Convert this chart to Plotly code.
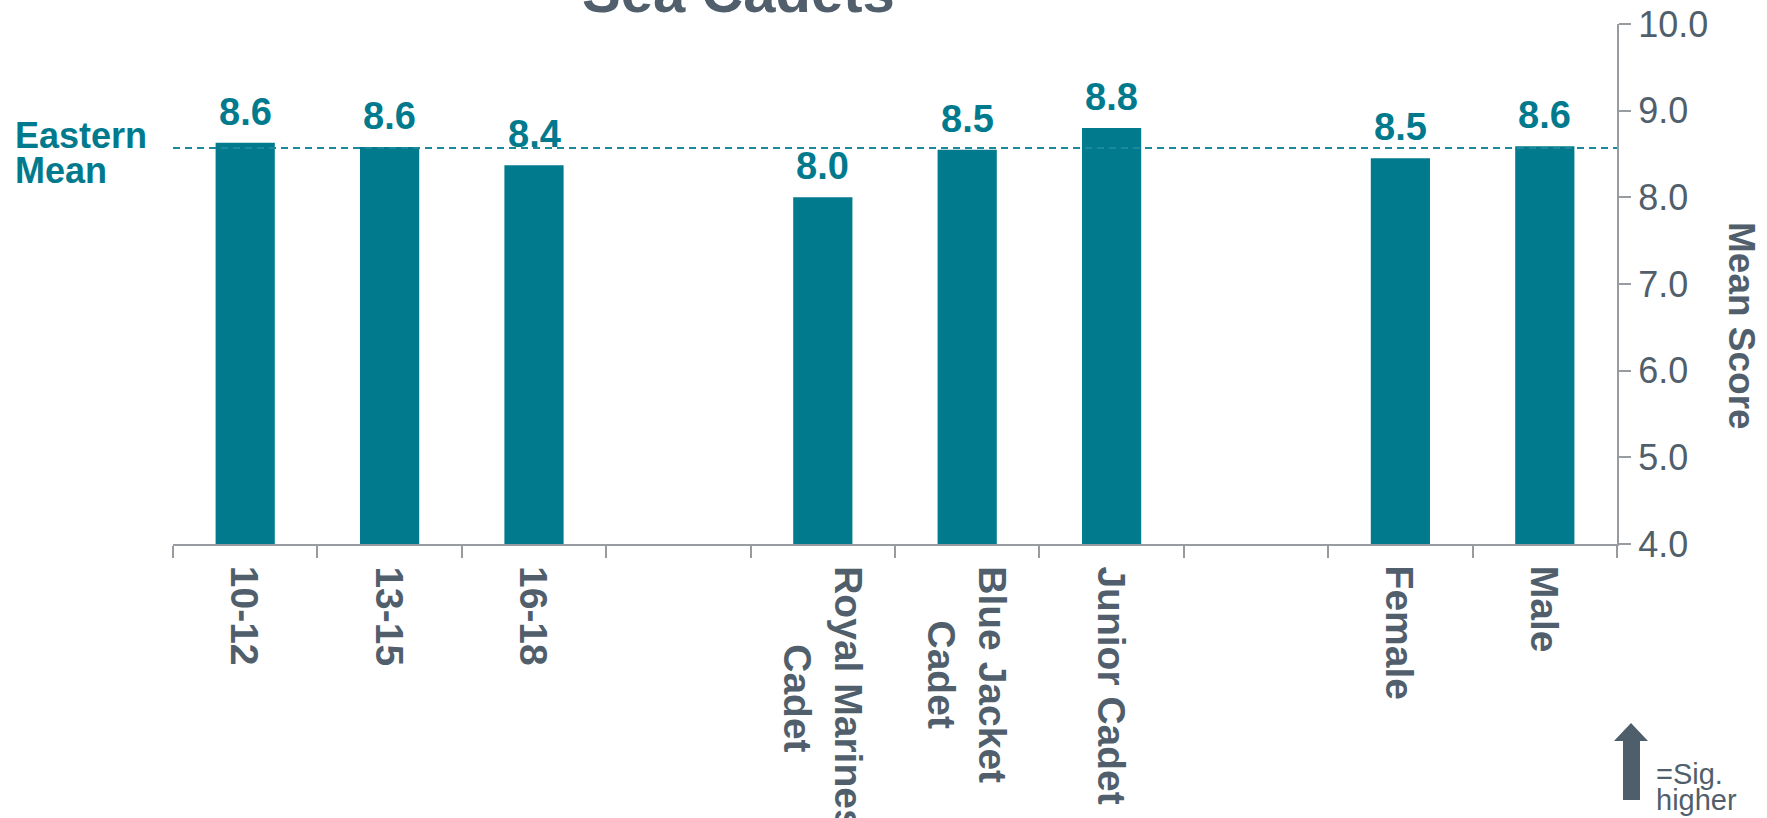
import plotly.graph_objects as go

# ---- data ----
categories = ["10-12", "13-15", "16-18", " ",
              "Royal Marines<br>Cadet", "Blue Jacket<br>Cadet", "Junior Cadet", "  ",
              "Female", "Male"]
mean_scores = [8.63, 8.58, 8.37, None, 8.00, 8.55, 8.80, None, 8.45, 8.59]
score_labels = ["8.6", "8.6", "8.4", "", "8.0", "8.5", "8.8", "", "8.5", "8.6"]
eastern_mean = 8.57
y_ticks = [4, 5, 6, 7, 8, 9, 10]

TEAL = "#017A8E"
SLATE = "#515F6C"
AXIS = "#989BA0"
FONT = "Liberation Sans, Arial, sans-serif"

W, H = 1767, 818
ML, MR, MT, MB = 173, 150, 24, 274
PW, PH = W - ML - MR, H - MT - MB


def xp(px):
    return (px - ML) / PW


def yp(py):
    return (H - MB - py) / PH


fig = go.Figure()
fig.add_trace(go.Bar(
    x=categories, y=mean_scores, width=0.41,
    marker=dict(color=TEAL, line=dict(width=0)),
    hoverinfo="x+y",
))

annotations = []
for c, v, t in zip(categories, mean_scores, score_labels):
    if v is None:
        continue
    annotations.append(dict(
        x=c, y=v, xref="x", yref="y", text=f"<b>{t}</b>", showarrow=False,
        xanchor="center", yanchor="bottom", yshift=8,
        font=dict(family=FONT, size=38, color=TEAL)))

# category labels (rotated, reading top to bottom, centred lines)
for c in categories:
    if not c.strip():
        continue
    annotations.append(dict(
        x=c, y=yp(564), xref="x", yref="paper", text=f"<b>{c}</b>",
        showarrow=False, textangle=90, align="center",
        xanchor="center", yanchor="top",
        font=dict(family=FONT, size=39, color=SLATE)))

# Eastern mean labels
annotations.append(dict(x=xp(13), y=eastern_mean, xref="paper", yref="y",
                        text="<b>Eastern</b>", showarrow=False, xanchor="left",
                        yanchor="bottom", yshift=-10,
                        font=dict(family=FONT, size=36, color=TEAL)))
annotations.append(dict(x=xp(13), y=eastern_mean, xref="paper", yref="y",
                        text="<b>Mean</b>", showarrow=False, xanchor="left",
                        yanchor="bottom", yshift=-45,
                        font=dict(family=FONT, size=36, color=TEAL)))

# Title (partially off the top)
annotations.append(dict(x=xp(738), y=yp(26), xref="paper", yref="paper",
                        text="<b>Sea Cadets</b>", showarrow=False,
                        xanchor="center", yanchor="bottom",
                        font=dict(family=FONT, size=58, color=SLATE)))

# Y axis title on the right, reading top to bottom
annotations.append(dict(x=xp(1741), y=yp(326), xref="paper", yref="paper",
                        text="<b>Mean Score</b>", showarrow=False, textangle=90,
                        xanchor="center", yanchor="middle",
                        font=dict(family=FONT, size=37, color=SLATE)))

# Sig. higher legend
annotations.append(dict(x=xp(1654), y=yp(792), xref="paper", yref="paper",
                        text="=Sig.", showarrow=False, xanchor="left", yanchor="bottom",
                        font=dict(family=FONT, size=29, color=SLATE)))
annotations.append(dict(x=xp(1654), y=yp(818), xref="paper", yref="paper",
                        text="higher", showarrow=False, xanchor="left", yanchor="bottom",
                        font=dict(family=FONT, size=29, color=SLATE)))

arrow_pts = [(1631, 723), (1648, 741), (1640, 741), (1640, 800),
             (1623, 800), (1623, 741), (1614, 741)]
path = "M " + " L ".join(f"{xp(a):.5f},{yp(b):.5f}" for a, b in arrow_pts) + " Z"

shapes = [
    dict(type="line", xref="paper", yref="y", x0=0, x1=1,
         y0=eastern_mean, y1=eastern_mean,
         line=dict(color="#1A8A9B", width=2, dash="7px,5px"), layer="above"),
    dict(type="path", xref="paper", yref="paper", path=path,
         fillcolor="#4F5E6B", line=dict(width=0)),
]

fig.update_layout(
    width=W, height=H,
    margin=dict(l=ML, r=MR, t=MT, b=MB, autoexpand=False),
    paper_bgcolor="white", plot_bgcolor="white",
    showlegend=False,
    annotations=annotations, shapes=shapes,
    xaxis=dict(
        type="category", categoryorder="array", categoryarray=categories,
        range=[-0.5, len(categories) - 0.5],
        tickson="boundaries", ticks="outside", ticklen=12, tickwidth=2,
        tickcolor=AXIS, showline=True, linecolor=AXIS, linewidth=2,
        showgrid=False, showticklabels=False, automargin=False,
    ),
    yaxis=dict(
        range=[4, 10], side="right", tickvals=y_ticks, tickformat=".1f",
        ticks="outside", ticklen=12, tickwidth=2, tickcolor=AXIS,
        showline=True, linecolor=AXIS, linewidth=2, showgrid=False,
        zeroline=False, automargin=False,
        tickfont=dict(family=FONT, size=36, color=SLATE),
    ),
)

fig.write_html("out.html",
               config={"displayModeBar": False},
               post_script="document.body.style.margin='0px';"
                           "document.body.style.overflow='hidden';")
